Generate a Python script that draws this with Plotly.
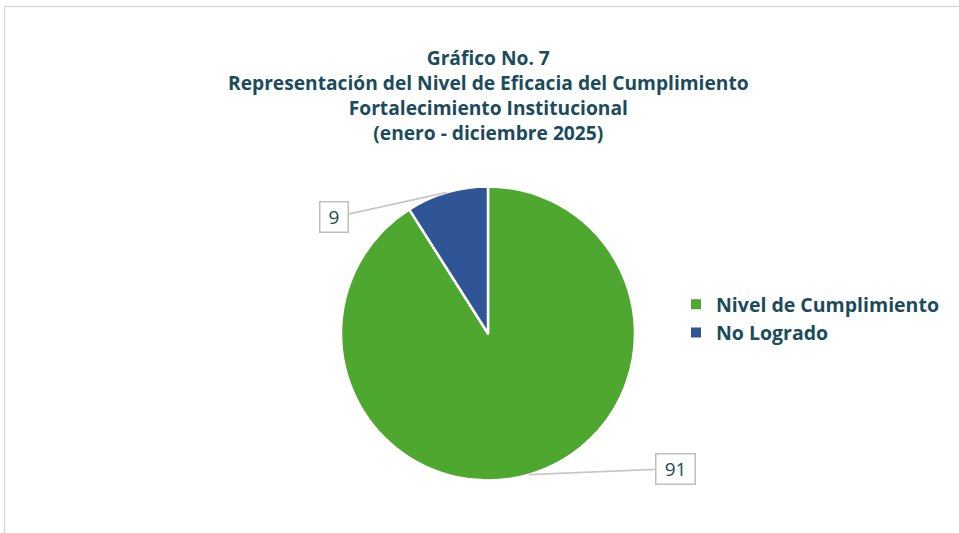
import math
import plotly.graph_objects as go

categories = ["Nivel de Cumplimiento", "No Logrado"]
values = [91, 9]
colors = ["#4EA72E", "#2F5597"]
title_lines = ["Gráfico No. 7",
               "Representación del Nivel de Eficacia del Cumplimiento",
               "Fortalecimiento Institucional",
               "(enero - diciembre 2025)"]

W, H = 959, 533
TXT = "#1B4B5C"
FONT = "Open Sans"

# pie geometry (pixels)
cx_px, cy_px, r_px = 488, 333.5, 147
dom_x = [(cx_px - r_px) / W, (cx_px + r_px) / W]
dom_y = [(H - cy_px - r_px) / H, (H - cy_px + r_px) / H]

fig = go.Figure(go.Pie(
    labels=categories, values=values, sort=False, direction="clockwise",
    rotation=0, marker=dict(colors=colors, line=dict(color="white", width=2.5)),
    textinfo="none", hoverinfo="label+value", domain=dict(x=dom_x, y=dom_y),
))

# data labels with leader lines, anchored at slice mid-angle on the rim
offsets = [(146, -6), (-113, 25)]
total = sum(values)
cum = 0
for v, (ax, ay) in zip(values, offsets):
    mid = (cum + v / 2) / total * 2 * math.pi
    cum += v
    px = (cx_px + r_px * math.sin(mid)) / W
    py = (H - cy_px + r_px * math.cos(mid)) / H
    fig.add_annotation(
        x=px, y=py, xref="paper", yref="paper", text=str(v),
        showarrow=True, arrowhead=0, arrowwidth=1.8, arrowcolor="#C8C8C8",
        ax=ax, ay=ay, font=dict(family=FONT, size=19, color=TXT),
        width=10 + 11 * len(str(v)), height=23,
        bgcolor="white", bordercolor="#BFBFBF", borderwidth=1.5, borderpad=3,
    )

fig.add_annotation(
    x=488 / W, y=1 - 42 / H, xref="paper", yref="paper", xanchor="center", yanchor="top",
    text="<br>".join(title_lines), showarrow=False, align="center",
    font=dict(family=FONT, size=19.2, color=TXT, weight="bold"),
)

# chart frame
fig.add_shape(type="line", xref="paper", yref="paper", x0=4.5 / W, x1=1.02, y0=1 - 6.5 / H, y1=1 - 6.5 / H,
              line=dict(color="#D9D9D9", width=1.5))
fig.add_shape(type="line", xref="paper", yref="paper", x0=4.5 / W, x1=4.5 / W, y0=-0.05, y1=1 - 6.5 / H,
              line=dict(color="#D9D9D9", width=1.5))

fig.update_layout(
    width=W, height=H, margin=dict(l=0, r=0, t=0, b=0),
    paper_bgcolor="white", plot_bgcolor="white",
    showlegend=True,
    legend=dict(x=676 / W, y=1 - 285 / H, xanchor="left", yanchor="top",
                font=dict(family=FONT, size=19.5, color=TXT, weight="bold"),
                itemsizing="constant", tracegroupgap=0),
)

fig.write_html("out.html", config={"displayModeBar": False},
               post_script="document.body.style.margin='0';")
